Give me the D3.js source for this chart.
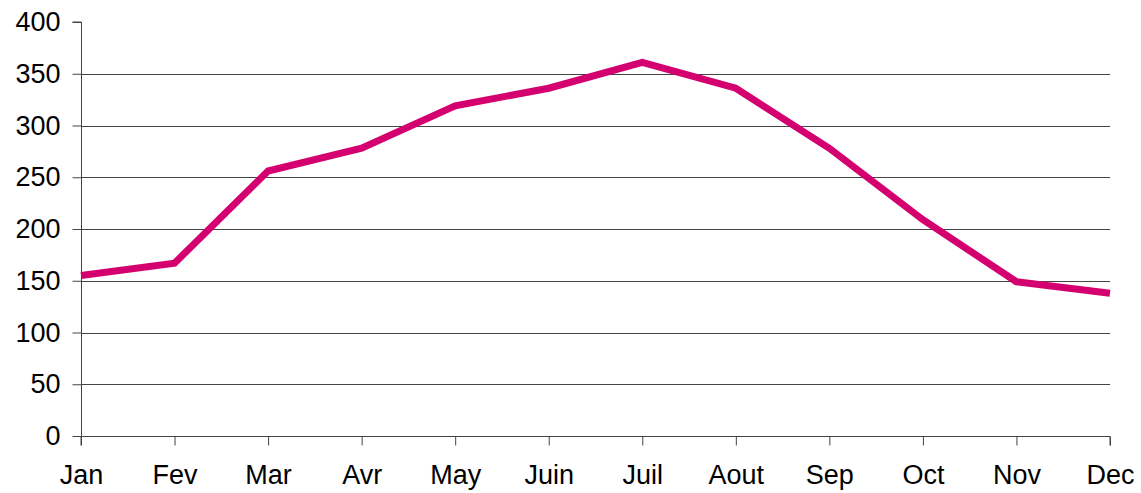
<!DOCTYPE html>
<html>
<head>
<meta charset="utf-8">
<script src="https://cdn.jsdelivr.net/npm/d3@7"></script>
<style>
  body { margin: 0; background: #fff; }
  svg { display: block; font-family: "Liberation Sans", Arial, sans-serif; }
</style>
</head>
<body>
<svg></svg>
<script>
// Data
const months = ["Jan", "Fev", "Mar", "Avr", "May", "Juin", "Juil", "Aout", "Sep", "Oct", "Nov", "Dec"];
const values = [155, 167, 256, 278, 319, 336, 361, 336, 278, 209, 149, 138];
const yTicks = [0, 50, 100, 150, 200, 250, 300, 350, 400];

const width = 1141;
const height = 493;
const margin = { top: 22, right: 31, bottom: 57, left: 81 };

const svg = d3.select("svg")
              .attr("width", width)
              .attr("height", height);

// Scales
const xScale = d3.scalePoint()
                 .domain(months)
                 .range([margin.left, width - margin.right]);

const yScale = d3.scaleLinear()
                 .domain([0, 400])
                 .range([height - margin.bottom, margin.top]);

// Gridlines (none at 0 and 400)
svg.append("g")
   .selectAll("line")
   .data(yTicks.filter(d => d > 0 && d < 400))
   .enter()
   .append("line")
   .attr("x1", margin.left)
   .attr("x2", width - margin.right)
   .attr("y1", d => Math.round(yScale(d)) + 0.5)
   .attr("y2", d => Math.round(yScale(d)) + 0.5)
   .attr("stroke", "#444")
   .attr("stroke-width", 1);

// Axes
const yAxis = d3.axisLeft(yScale)
                .tickValues(yTicks)
                .tickSize(9)
                .tickPadding(12);

const xAxis = d3.axisBottom(xScale)
                .tickSize(9)
                .tickPadding(19);

const gy = svg.append("g")
   .attr("transform", `translate(${margin.left + 0.5}, 0)`)
   .call(yAxis);

const gx = svg.append("g")
   .attr("transform", `translate(0, ${height - margin.bottom + 0.5})`)
   .call(xAxis);

[gy, gx].forEach(g => {
  g.select(".domain").attr("stroke", "#444");
  g.selectAll(".tick line").attr("stroke", "#444");
  g.selectAll("text")
   .attr("fill", "#000")
   .style("font-size", "27px")
   .style("font-family", "'Liberation Sans', Arial, sans-serif");
});
gy.select(".domain").attr("d", `M-9,${yScale(400)}H0V${yScale(0)}`);
gx.select(".domain").attr("d", `M${xScale(months[0])},9V0H${xScale(months[months.length - 1])}V9`);

// Line
const line = d3.line()
               .x((d, i) => xScale(months[i]))
               .y(d => yScale(d));

svg.append("path")
   .datum(values)
   .attr("fill", "none")
   .attr("stroke", "#D5006F")
   .attr("stroke-width", 7)
   .attr("stroke-linejoin", "miter")
   .attr("d", line);
</script>
</body>
</html>
